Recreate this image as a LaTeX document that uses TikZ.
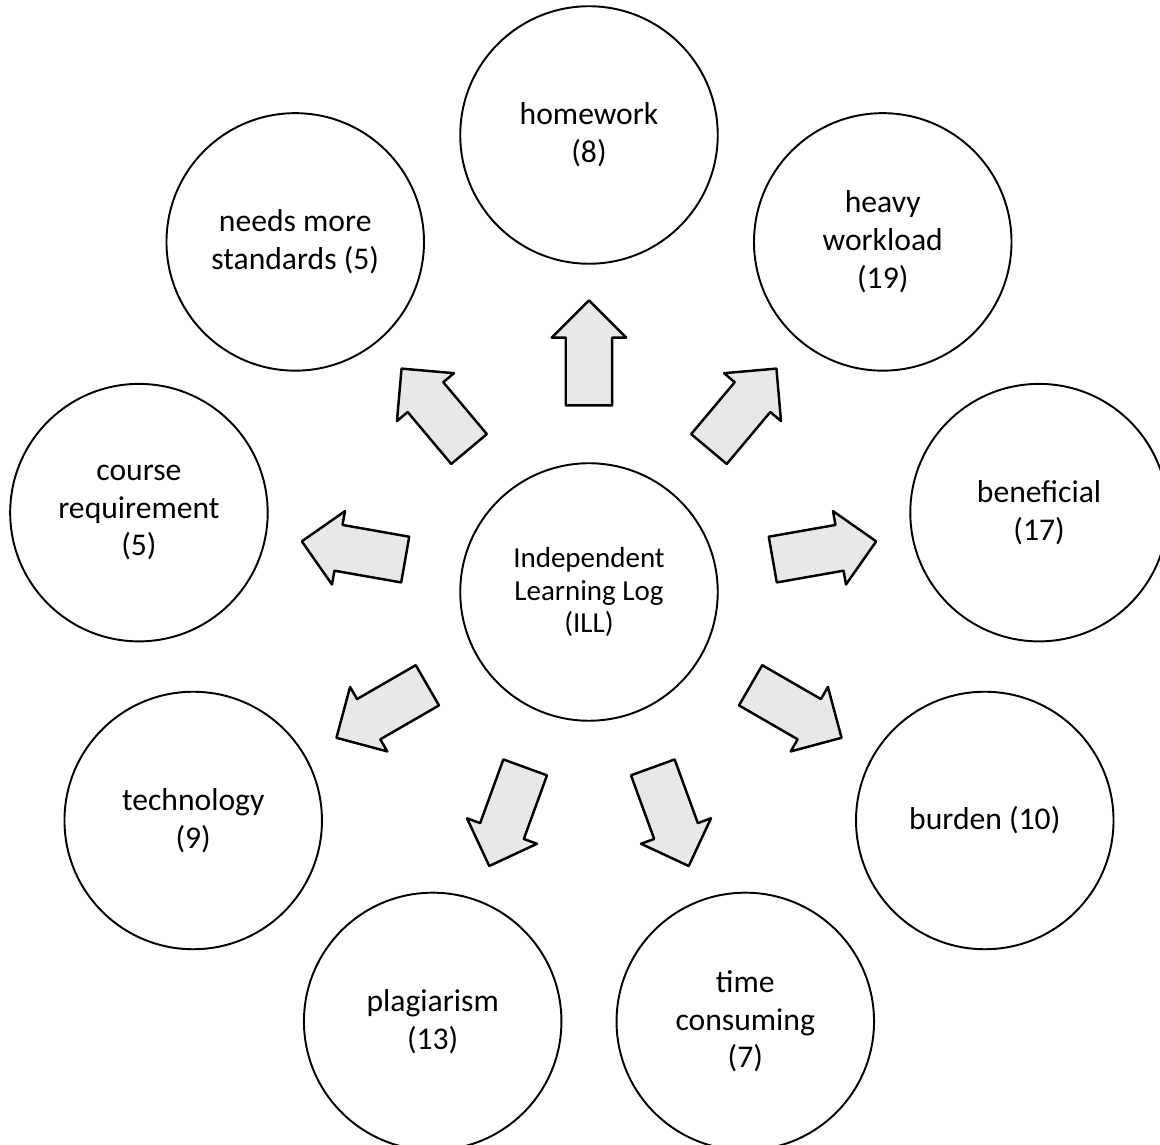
\documentclass[tikz,border=0pt]{standalone}
\usepackage{fontspec}
\setmainfont{Carlito}
\usepackage{tikz}
\usetikzlibrary{shapes.arrows}
\definecolor{ArrowFill}{HTML}{E8E8E8}

\begin{document}
\begin{tikzpicture}[
    font=\fontsize{18}{21.5}\selectfont,
    topic/.style={circle,draw=black,line width=1.1pt,minimum size=5.15cm,inner sep=0pt,align=center},
    blockarr/.style={single arrow,draw=black,fill=ArrowFill,line width=1.4pt,minimum height=2.1cm,inner xsep=0pt,inner ysep=0.44cm,single arrow head extend=0.28cm,line join=round}
  ]
  \useasboundingbox (-11.78,-11.06) rectangle (11.42,11.84);
  \node[topic,font=\fontsize{16.5}{18.5}\selectfont] (ill) at (0,0) {Independent\\Learning Log\\(ILL)};
  % outer ring of themes, one arrow each
  \foreach \ang/\nm/\txt in {90/hw/{homework\\(8)},50/hvy/{heavy\\workload\\(19)},10/ben/{beneficial\\(17)},-30/bur/{burden (10)},-70/tim/{time\\consuming\\(7)},-110/pla/{plagiarism\\(13)},-150/tec/{technology\\(9)},170/crs/{course\\requirement\\(5)},130/nms/{needs more\\standards (5)}} {
    \node[topic] (c-\nm) at (\ang:9.14) {\txt};
    \node[blockarr,rotate=\ang] (a-\nm) at (\ang:4.55) {};
  }
\end{tikzpicture}
\end{document}
